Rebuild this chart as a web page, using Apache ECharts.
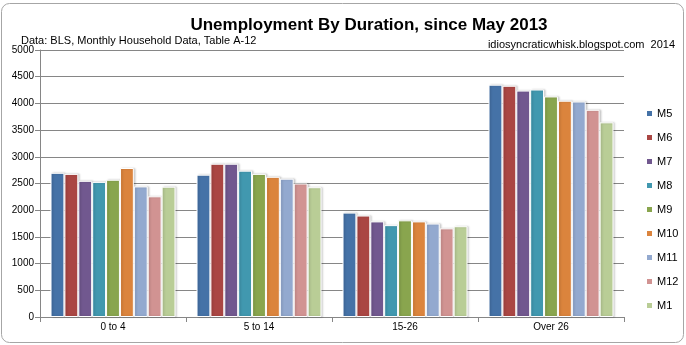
<!DOCTYPE html>
<html>
<head>
<meta charset="utf-8">
<style>
  html, body { margin: 0; padding: 0; background: #fff; }
  #chart { width: 686px; height: 345px; }
</style>
<script src="https://cdn.jsdelivr.net/npm/echarts@6/dist/echarts.min.js"></script>
</head>
<body>
<div id="chart"></div>
<script>
// Duration buckets (weeks) and monthly series, thousands of persons
const categories = ['0 to 4', '5 to 14', '15-26', 'Over 26'];
const months = ['M5', 'M6', 'M7', 'M8', 'M9', 'M10', 'M11', 'M12', 'M1'];
const m5  = [2700, 2665, 1955, 4350];
const m6  = [2680, 2870, 1900, 4330];
const m7  = [2550, 2870, 1790, 4240];
const m8  = [2530, 2740, 1720, 4260];
const m9  = [2570, 2680, 1810, 4130];
const m10 = [2790, 2625, 1790, 4050];
const m11 = [2445, 2590, 1750, 4035];
const m12 = [2260, 2500, 1660, 3880];
const m1  = [2440, 2430, 1700, 3645];
const yTicks = { min: 0, max: 5000, step: 500 };

const seriesValues = [m5, m6, m7, m8, m9, m10, m11, m12, m1];
const palette = ['#4572A7', '#AA4643', '#71588F', '#4198AF', '#89A54E',
                 '#DB843D', '#93A9CF', '#D19392', '#B9CD96'];
const font = '"Liberation Sans", Arial, sans-serif';
const gray = '#868686';

const chart = echarts.init(document.getElementById('chart'), null, { renderer: 'canvas' });

chart.setOption({
  animation: false,
  color: palette,
  textStyle: { fontFamily: font, color: '#000' },
  graphic: [{
    type: 'rect',
    z: -10,
    shape: { x: 1.5, y: 3.5, width: 682, height: 339, r: 8 },
    style: { fill: '#fff', stroke: '#a6a6a6', lineWidth: 1 }
  }],
  title: [
    {
      text: 'Unemployment By Duration, since May 2013',
      left: 364, top: 12, textAlign: 'center',
      textStyle: { fontFamily: font, fontSize: 17, fontWeight: 'bold', color: '#000' }
    },
    {
      text: 'Data: BLS, Monthly Household Data, Table A-12',
      left: 16, top: 30,
      textStyle: { fontFamily: font, fontSize: 11, fontWeight: 'normal', color: '#000' }
    },
    {
      text: 'idiosyncraticwhisk.blogspot.com  2014',
      right: 6, top: 34,
      textStyle: { fontFamily: font, fontSize: 11, fontWeight: 'normal', color: '#000' }
    }
  ],
  legend: {
    orient: 'vertical',
    left: 640, top: 103,
    itemWidth: 7, itemHeight: 7, itemGap: 13,
    icon: 'rect',
    textStyle: { fontFamily: font, fontSize: 11, color: '#000', padding: [0, 0, 0, -1] },
    data: months
  },
  grid: { left: 40, right: 62, top: 50, bottom: 28, containLabel: false },
  xAxis: {
    type: 'category',
    data: categories,
    axisLine: { lineStyle: { color: gray, width: 1 } },
    axisTick: { show: true, length: 5, lineStyle: { color: gray } },
    axisLabel: { fontFamily: font, fontSize: 10, color: '#000', margin: 5 }
  },
  yAxis: {
    type: 'value',
    min: yTicks.min, max: yTicks.max, interval: yTicks.step,
    axisLine: { show: true, lineStyle: { color: gray, width: 1 } },
    axisTick: { show: true, length: 5, lineStyle: { color: gray } },
    axisLabel: {
      fontFamily: font, fontSize: 10, color: '#000', margin: 6,
      formatter: (v) => String(v)
    },
    splitLine: { lineStyle: { color: gray, width: 1 } }
  },
  series: months.map((name, i) => ({
    name,
    type: 'bar',
    data: seriesValues[i],
    barGap: '0%',
    barCategoryGap: '14.4%',
    itemStyle: {
      borderColor: '#ffffff',
      borderWidth: 1,
      shadowColor: 'rgba(0,0,0,0.18)',
      shadowBlur: 2,
      shadowOffsetX: 1.5,
      shadowOffsetY: 0
    }
  }))
});
</script>
</body>
</html>
